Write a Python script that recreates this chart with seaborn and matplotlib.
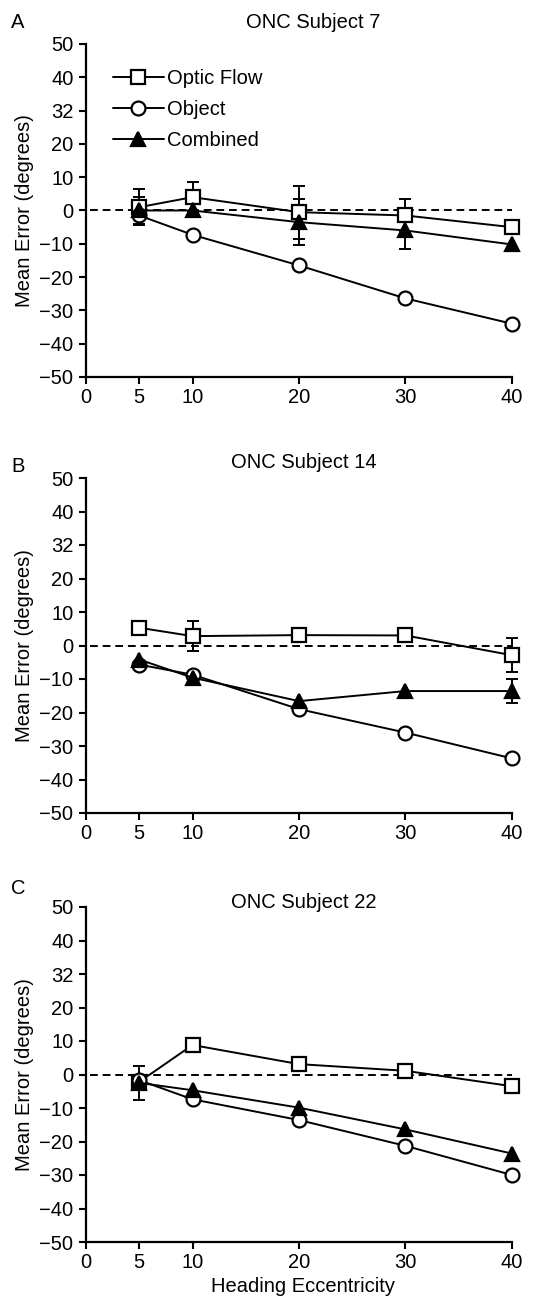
import numpy as np
import pandas as pd
import matplotlib
matplotlib.use("Agg")
import matplotlib.pyplot as plt
import seaborn as sns

sns.set_style("ticks")
plt.rcParams['font.family'] = ['Liberation Sans', 'DejaVu Sans']
plt.rcParams['text.color'] = 'black'
plt.rcParams['axes.labelcolor'] = 'black'
plt.rcParams['xtick.color'] = 'black'
plt.rcParams['ytick.color'] = 'black'

ecc = [5, 10, 20, 30, 40]
conditions = ["Optic Flow", "Object", "Combined"]
subjects = ["ONC Subject 7", "ONC Subject 14", "ONC Subject 22"]
panel_letters = ["A", "B", "C"]

# Subject 7
s7_flow = [1.0, 4.0, -0.5, -1.5, -5.0]
s7_flow_err = [5.5, 4.5, 8.0, 5.0, np.nan]
s7_object = [-1.5, -7.3, -16.5, -26.4, -34.0]
s7_object_err = [np.nan, np.nan, np.nan, np.nan, np.nan]
s7_comb = [0.0, 0.0, -3.5, -6.0, -10.2]
s7_comb_err = [4.0, np.nan, 7.0, 5.5, np.nan]

# Subject 14
s14_flow = [5.3, 2.8, 3.1, 3.0, -2.9]
s14_flow_err = [np.nan, 4.5, np.nan, np.nan, 5.0]
s14_object = [-5.7, -8.7, -19.0, -26.0, -33.7]
s14_object_err = [np.nan, np.nan, np.nan, np.nan, np.nan]
s14_comb = [-4.2, -9.6, -16.6, -13.6, -13.6]
s14_comb_err = [np.nan, np.nan, np.nan, np.nan, 3.5]

# Subject 22
s22_flow = [-2.2, 8.8, 3.1, 1.1, -3.5]
s22_flow_err = [np.nan, np.nan, np.nan, np.nan, np.nan]
s22_object = [-1.7, -7.4, -13.6, -21.3, -30.0]
s22_object_err = [np.nan, np.nan, np.nan, np.nan, np.nan]
s22_comb = [-2.5, -4.7, -9.9, -16.4, -23.6]
s22_comb_err = [5.0, np.nan, np.nan, np.nan, np.nan]

y_ticks = [50, 40, 30, 20, 10, 0, -10, -20, -30, -40, -50]
y_tick_labels = ["50", "40", "32", "20", "10", "0", "\u221210", "\u221220", "\u221230", "\u221240", "\u221250"]
x_ticks = [0, 5, 10, 20, 30, 40]
x_tick_labels = ["0", "5", "10", "20", "30", "40"]

panels = [
    (s7_flow, s7_flow_err, s7_object, s7_object_err, s7_comb, s7_comb_err),
    (s14_flow, s14_flow_err, s14_object, s14_object_err, s14_comb, s14_comb_err),
    (s22_flow, s22_flow_err, s22_object, s22_object_err, s22_comb, s22_comb_err),
]

styles = {
    "Optic Flow": dict(marker="s", markerfacecolor="white", markersize=10),
    "Object": dict(marker="o", markerfacecolor="white", markersize=10),
    "Combined": dict(marker="^", markerfacecolor="black", markersize=10),
}

W, H = 534, 1298
fig = plt.figure(figsize=(W / 100, H / 100), dpi=100)

# axes boxes in pixels: (top, bottom)
boxes = [(44, 377), (478, 813), (907, 1242)]
title_y = [22, 463, 903]
title_x = [313, 304, 304]
letter_y = [22, 467, 888]
left_px, right_px = 86, 512

fs = 14.5
for i, (box, vals) in enumerate(zip(boxes, panels)):
    top, bot = box
    ax = fig.add_axes([left_px / W, 1 - bot / H, (right_px - left_px) / W, (bot - top) / H])
    flow, flow_err, obj, obj_err, comb, comb_err = vals
    df = pd.DataFrame({
        "ecc": ecc * 3,
        "err": list(flow) + list(obj) + list(comb),
        "sd": list(flow_err) + list(obj_err) + list(comb_err),
        "cond": [c for c in conditions for _ in ecc],
    })
    ax.axhline(0, xmin=0.01, xmax=1.0, color="black", lw=1.4, ls=(0, (4, 2.5)), zorder=1)
    for j, cond in enumerate(conditions):
        sub = df[df["cond"] == cond]
        ok = sub["sd"].notna()
        ax.errorbar(sub["ecc"][ok], sub["err"][ok], yerr=sub["sd"][ok], fmt="none",
                    ecolor="black", elinewidth=1.4, capsize=4, capthick=1.4,
                    zorder=2, clip_on=False)
        sns.lineplot(data=sub, x="ecc", y="err", ax=ax, color="black", lw=1.4,
                     markeredgecolor="black", markeredgewidth=1.6,
                     label=cond if i == 0 else None, legend=False,
                     clip_on=False, zorder=3 + j, **styles[cond])
    ax.set_xlim(0, 40)
    ax.set_ylim(-50, 50)
    ax.set_yticks(y_ticks)
    ax.set_yticklabels(y_tick_labels, fontsize=fs)
    ax.set_xticks(x_ticks)
    ax.set_xticklabels(x_tick_labels, fontsize=fs)
    ax.tick_params(direction="out", length=5, width=1.5, colors="black")
    ax.tick_params(axis="y", pad=4)
    ax.tick_params(axis="x", pad=3)
    for s in ["right", "top"]:
        ax.spines[s].set_visible(False)
    for s in ["left", "bottom"]:
        ax.spines[s].set_linewidth(1.6)
        ax.spines[s].set_color("black")
    ax.set_xlabel("")
    ax.set_ylabel("Mean Error (degrees)", fontsize=fs, color="black")
    ax.yaxis.set_label_coords(-0.121, 0.5)
    fig.text(title_x[i] / W, 1 - title_y[i] / H, subjects[i], fontsize=fs, ha="center", va="center", color="black")
    fig.text(18 / W, 1 - letter_y[i] / H, panel_letters[i], fontsize=fs, ha="center", va="center", color="black")
    if i == 0:
        leg = ax.legend(loc="upper left", bbox_to_anchor=(0.045, 0.95), frameon=False,
                        fontsize=fs, handlelength=2.5, handletextpad=0.15, labelspacing=0.6,
                        borderaxespad=0, labelcolor="black")
    if i == 2:
        ax.set_xlabel("Heading Eccentricity", fontsize=fs, color="black")
        ax.xaxis.set_label_coords(0.51, -0.103)

fig.savefig("out.png", dpi=100, facecolor="white")
